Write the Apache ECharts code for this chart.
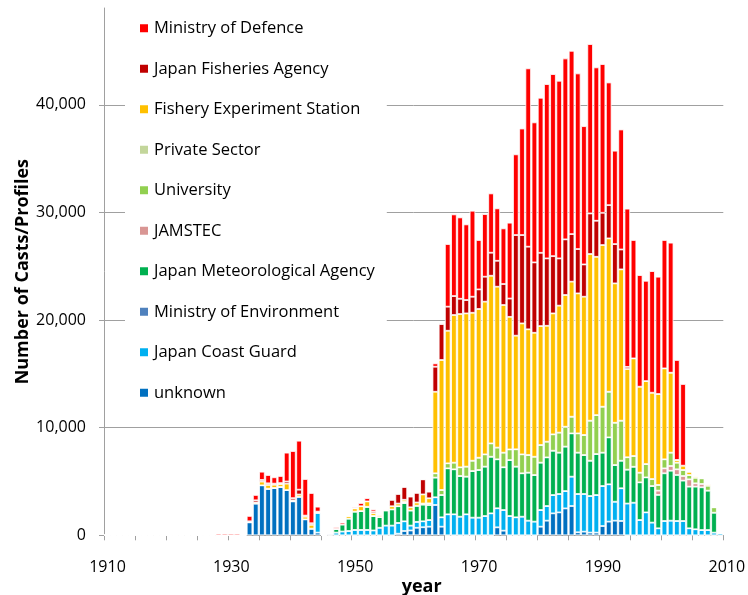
<!DOCTYPE html>
<html>
<head>
<meta charset="utf-8">
<script src="https://cdn.jsdelivr.net/npm/echarts@6/dist/echarts.min.js"></script>
<style>
html,body{margin:0;padding:0;background:#fff;}
#chart{width:748px;height:595px;}
</style>
</head>
<body>
<div id="chart"></div>
<script>
// Categories: one per year 1910..2009
const years = [];
for (let y = 1910; y <= 2009; y++) years.push(String(y));

const xTickLabels = [1910, 1930, 1950, 1970, 1990, 2010];
const yTickValues = [0, 10000, 20000, 30000, 40000];

// Series values, index 0 = 1910 ... index 99 = 2009
const unknown = [
  0,0,0,0,0,0,0,0,0,0,
  0,0,0,0,0,0,0,0,0,0,
  0,0,0,1200,2950,4640,4330,4400,4500,4200,
  3150,3590,1480,620,250,0,0,0,0,0,
  0,0,0,0,0,0,0,150,400,450,
  700,750,800,2815,800,0,0,0,0,0,
  0,0,0,740,430,0,0,0,0,0,
  800,1360,2040,2130,2500,2720,280,340,250,250,
  860,1270,1360,1330,0,0,0,0,0,0,
  0,0,0,0,0,0,0,0,0,0
];
const coastGuard = [
  0,0,0,0,0,0,0,0,0,0,
  0,0,0,0,0,0,0,0,0,0,
  0,0,0,0,0,0,0,0,0,0,
  0,0,0,0,1850,0,150,250,350,400,
  500,500,500,450,700,900,900,1000,900,450,
  550,550,620,715,870,1950,1950,1730,1950,1640,
  1640,1790,2040,1770,1920,1790,1670,1730,1360,1270,
  1550,1360,1700,1710,1610,2730,3560,3500,3400,3490,
  3720,3470,1760,3040,2950,3030,1420,2130,1180,650,
  1330,1360,1330,1330,650,560,490,490,250,190
];
const environment = [
  0,0,0,0,0,0,0,0,0,0,
  0,0,0,0,0,0,0,0,0,0,
  0,0,0,0,0,0,0,0,0,0,
  0,0,0,0,0,0,0,0,0,0,
  0,0,0,0,0,0,0,0,0,0,
  0,0,0,0,0,0,0,0,0,0,
  0,0,0,0,0,0,0,0,0,0,
  0,0,0,0,0,0,0,0,0,0,
  0,0,0,0,0,0,0,0,0,0,
  0,0,0,0,0,0,0,0,0,0
];
const meteorological = [
  0,0,0,0,0,0,0,0,0,0,
  0,0,0,0,0,0,0,0,0,0,
  0,0,0,0,0,0,0,0,0,0,
  0,0,0,0,0,0,0,350,650,1150,
  1700,1750,2150,1350,1000,1400,1500,1550,1700,1400,
  1500,1550,1400,1830,2075,4270,4180,3780,3500,4330,
  4430,4590,5260,4550,3970,5200,4710,4030,4460,4330,
  4400,4520,4120,3840,4130,4020,3840,3620,3280,3810,
  3100,4360,3410,2560,3150,3340,3500,3250,3400,3100,
  4430,4640,4270,3750,3870,3960,3970,3660,1850,0
];
const jamstec = [
  0,0,0,0,0,0,0,0,0,0,
  0,0,0,0,0,0,0,0,0,0,
  0,0,0,0,0,0,0,0,0,0,
  0,0,0,0,0,0,0,0,0,0,
  0,0,0,0,0,0,0,0,0,0,
  0,0,0,0,0,0,0,0,0,0,
  0,0,0,0,0,0,0,0,0,0,
  0,0,0,0,0,0,0,0,0,0,
  0,0,0,0,0,0,0,0,0,400,
  460,440,530,430,680,310,310,0,0,0
];
const university = [
  0,0,0,0,0,0,0,0,0,0,
  0,0,0,0,0,0,0,0,0,0,
  0,0,0,0,0,0,0,0,0,0,
  0,0,0,0,0,0,0,0,0,0,
  0,0,0,0,0,50,0,0,100,0,
  0,100,150,400,465,470,620,810,930,960,
  1140,1140,1240,1090,1360,990,1610,1760,1640,1700,
  1640,1460,1520,1860,1850,1550,1790,1860,3720,3620,
  4270,4240,3930,3720,1150,1000,900,1240,650,530,
  840,1240,620,560,400,520,520,460,500,0
];
const privateSector = [
  0,0,0,0,0,0,0,0,0,0,
  0,0,0,0,0,0,0,0,0,0,
  0,0,0,0,0,0,0,0,0,0,
  0,0,0,0,0,0,0,0,0,0,
  0,0,0,0,0,0,0,0,0,0,
  0,0,0,0,0,0,0,0,0,0,
  0,0,0,0,0,0,0,0,0,0,
  0,0,0,0,0,0,0,0,0,0,
  0,0,0,0,0,0,0,0,0,0,
  0,0,0,0,0,0,0,0,0,0
];
const experimentStation = [
  0,0,0,0,0,0,0,0,0,0,
  0,0,0,0,0,0,0,0,0,0,
  0,0,0,0,100,350,350,300,250,600,
  100,200,250,350,100,0,0,0,0,250,
  300,450,500,250,200,100,300,250,200,300,
  300,850,470,7580,12080,12320,13720,14240,14240,13750,
  13820,14190,15580,14950,13720,12320,10560,12170,11680,11520,
  11050,10770,11240,11800,12240,12550,13010,12850,15490,14710,
  15020,14250,12950,14060,8200,9070,7990,7710,8020,8450,
  8450,7430,250,400,310,160,60,160,0,0
];
const fisheriesAgency = [
  0,0,0,0,0,0,0,0,0,0,
  0,0,0,0,0,0,0,0,0,0,
  0,0,0,100,200,150,150,100,100,200,
  200,450,100,150,0,0,0,0,0,0,
  0,0,0,150,0,0,600,900,1200,1000,
  900,1400,620,2325,3340,2235,1760,1420,1240,1490,
  1820,2320,2140,2410,1950,1700,9350,8210,7680,6540,
  6810,6260,5320,4390,5170,4420,4120,3000,3770,3350,
  3000,3090,3650,1850,200,0,0,0,0,0,
  0,0,0,0,0,0,0,0,0,0
];
const defence = [
  0,0,0,0,0,0,0,0,0,0,
  0,0,0,0,0,0,0,0,150,150,
  150,150,40,500,500,770,770,590,660,2680,
  4380,4550,3400,2810,460,0,0,150,180,0,
  100,300,300,200,0,0,0,0,0,0,
  0,0,0,310,100,5820,7590,7560,7030,7990,
  4590,5820,5510,4870,5170,7050,7500,9900,16570,13010,
  14410,16200,16920,16510,16810,17030,16320,12850,15740,14250,
  13820,11400,8680,11150,14700,11000,10370,9320,11300,10900,
  11930,12080,9290,7590,0,0,0,0,0,0
];

const seriesDefs = [
  ['unknown', unknown, '#0070C0'],
  ['Japan Coast Guard', coastGuard, '#00B0F0'],
  ['Ministry of Environment', environment, '#4F81BD'],
  ['Japan Meteorological Agency', meteorological, '#00B050'],
  ['JAMSTEC', jamstec, '#D99694'],
  ['University', university, '#92D050'],
  ['Private Sector', privateSector, '#C3D69B'],
  ['Fishery Experiment Station', experimentStation, '#FFC000'],
  ['Japan Fisheries Agency', fisheriesAgency, '#C00000'],
  ['Ministry of Defence', defence, '#FF0000']
];

const FONT = 'Open Sans';
const AXIS_GRAY = '#a0a0a0';

const chart = echarts.init(document.getElementById('chart'), null, {renderer: 'canvas'});
chart.setOption({
  animation: false,
  backgroundColor: '#fff',
  textStyle: {fontFamily: FONT, color: '#000'},
  grid: {left: 104, right: 24.7, top: 8, bottom: 59.7, containLabel: false, outerBoundsMode: 'none'},
  legend: {
    orient: 'vertical',
    left: 125,
    top: 8,
    padding: [10.3, 12, 10, 13],
    backgroundColor: '#fff',
    itemWidth: 10,
    itemHeight: 10,
    itemGap: 20.5,
    icon: 'rect',
    textStyle: {fontFamily: FONT, fontSize: 16.5, lineHeight: 20, color: '#000'},
    data: seriesDefs.map(d => d[0]).reverse()
  },
  xAxis: [
    {
      type: 'category',
      data: years,
      position: 'bottom',
      boundaryGap: true,
      axisLine: {lineStyle: {color: AXIS_GRAY, width: 1}},
      axisTick: {show: true, interval: 4, length: 5, lineStyle: {color: AXIS_GRAY}},
      axisLabel: {show: false},
      splitLine: {show: false}
    },
    {
      type: 'value',
      position: 'bottom',
      min: 1910,
      max: 2010,
      interval: 20,
      axisLine: {show: false},
      axisTick: {show: false},
      splitLine: {show: false},
      axisLabel: {
        show: true,
        margin: 24.5,
        fontSize: 16,
        fontFamily: FONT,
        color: '#000',
        padding: [0, 0, 0, 7],
        customValues: xTickLabels,
        formatter: v => String(v)
      },
      name: 'year',
      nameLocation: 'middle',
      nameGap: 43,
      nameMoveOverlap: false,
      nameTextStyle: {fontSize: 18, fontWeight: 'bold', fontFamily: FONT, color: '#000', padding: [0, 0, 0, 16]}
    }
  ],
  yAxis: {
    type: 'value',
    min: 0,
    max: 49000,
    interval: 10000,
    axisLine: {show: true, lineStyle: {color: AXIS_GRAY, width: 1}},
    axisTick: {show: true, length: 5, lineStyle: {color: AXIS_GRAY}, customValues: yTickValues},
    axisLabel: {
      margin: 18, fontSize: 16, fontFamily: FONT, color: '#000',
      customValues: yTickValues,
      formatter: v => v.toLocaleString('en-US')
    },
    splitLine: {show: true, lineStyle: {color: AXIS_GRAY, width: 1}},
    name: 'Number of Casts/Profiles',
    nameLocation: 'middle',
    nameGap: 72,
    nameMoveOverlap: false,
    nameTextStyle: {fontSize: 18, fontWeight: 'bold', fontFamily: FONT, color: '#000'}
  },
  series: seriesDefs.map(d => ({
    name: d[0],
    type: 'bar',
    stack: 'total',
    xAxisIndex: 0,
    data: d[1],
    barWidth: 5.6,
    itemStyle: {color: d[2], borderColor: '#fff', borderWidth: 0.8}
  }))
});
</script>
</body>
</html>
